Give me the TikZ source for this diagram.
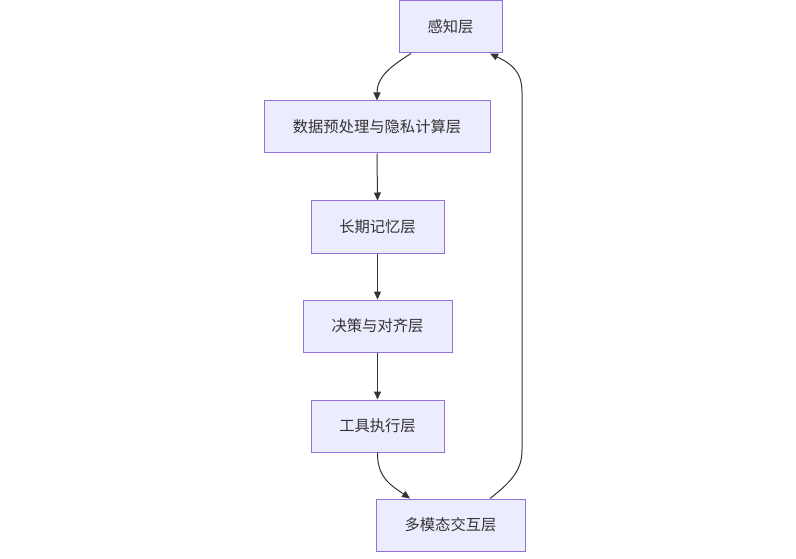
\documentclass[tikz,border=0pt]{standalone}
\usepackage{fontspec}
\setmainfont{Noto Sans CJK SC}
\usetikzlibrary{arrows.meta}
\definecolor{boxfill}{HTML}{ECECFF}
\definecolor{boxline}{HTML}{9370DB}
\definecolor{edge}{HTML}{333333}
\tikzset{
  layer/.style={draw=boxline, fill=boxfill, line width=1pt, minimum height=52pt, inner sep=0pt, font=\fontsize{15.3}{17}\selectfont, text=edge},
  conn/.style={draw=edge, line width=1pt, -{Triangle[length=8pt,width=7pt]}}
}
\begin{document}
\begin{tikzpicture}[x=1pt,y=-1pt]
\useasboundingbox (0,0) rectangle (796,559);
\node[layer, minimum width=103pt] (a) at (450.5,27) {感知层};
\node[layer, minimum width=226pt] (b) at (377,127) {数据预处理与隐私计算层};
\node[layer, minimum width=133pt] (c) at (377.5,227) {长期记忆层};
\node[layer, minimum width=149pt] (d) at (377.5,326) {决策与对齐层};
\node[layer, minimum width=133pt] (e) at (377.5,426) {工具执行层};
\node[layer, minimum width=149pt] (f) at (450.5,525) {多模态交互层};
\draw[conn] ([xshift=-39.5pt]a.south) .. controls (388,68) and (377,78) .. (b.north);
\draw[conn] (b.south) -- (c.north);
\draw[conn] (c.south) -- (d.north);
\draw[conn] (d.south) -- (e.north);
\draw[conn] (e.south) .. controls (377,478) and (392,486) .. ([xshift=-40.5pt]f.north);
\draw[conn] ([xshift=39.5pt]f.north) .. controls (514,480) and (522,468) .. (522,450) -- (522,92) .. controls (522,72) and (512,64) .. ([xshift=39.5pt]a.south);
\end{tikzpicture}
\end{document}
